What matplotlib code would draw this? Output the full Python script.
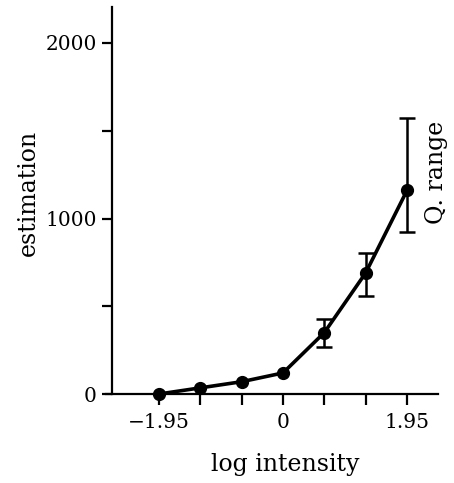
import matplotlib
matplotlib.use("Agg")
import matplotlib.pyplot as plt

# data
x_vals = [-1.95, -1.3, -0.65, 0.0, 0.65, 1.3, 1.95]
estimation = [0, 35, 70, 120, 350, 690, 1160]
err_x = [0.65, 1.3, 1.95]
err_y = [350, 690, 1160]
err_low = [270, 560, 925]
err_high = [425, 805, 1570]
xtick_vals = [-1.95, -1.3, -0.65, 0.0, 0.65, 1.3, 1.95]
xtick_labels = ["\u22121.95", "", "", "0", "", "", "1.95"]
ytick_major = [0, 1000, 2000]
ytick_minor = [500, 1500]

plt.rcParams['font.family'] = ['DejaVu Serif']

W, H = 454, 483
fig = plt.figure(figsize=(W / 100, H / 100), dpi=100)
ax_left, ax_right, ax_bottom, ax_top = 106, 438, 394, 7
ax = fig.add_axes([ax_left / W, 1 - ax_bottom / H, (ax_right - ax_left) / W, (ax_bottom - ax_top) / H])

ppx = (407 - 159) / 3.9  # pixels per x unit
x0 = -1.95 - (159 - ax_left) / ppx
x1 = 1.95 + (ax_right - 407) / ppx
ax.set_xlim(x0, x1)
ppy = (394 - 43) / 2000
ax.set_ylim(0, (394 - ax_top) / ppy)

ax.plot(x_vals, estimation, color='black', lw=2.6, marker='o', ms=8.5, clip_on=False, zorder=3)
yerr = [[y - lo for y, lo in zip(err_y, err_low)], [hi - y for y, hi in zip(err_y, err_high)]]
ax.errorbar(err_x, err_y, yerr=yerr, fmt='none', ecolor='black', elinewidth=1.8, capsize=5.5, capthick=1.8, zorder=2)

for s in ['top', 'right']:
    ax.spines[s].set_visible(False)
ax.spines['left'].set_position(('axes', (112 - ax_left) / (ax_right - ax_left)))
ax.spines['left'].set_linewidth(1.6)
ax.spines['bottom'].set_linewidth(1.6)

ax.set_xticks(xtick_vals)
ax.set_xticklabels(xtick_labels)
ax.set_yticks(ytick_major)
ax.set_yticks(ytick_minor, minor=True)
ax.tick_params(axis='both', which='both', direction='out', width=1.6, labelsize=14.5, colors='black')
ax.tick_params(axis='x', length=8, pad=6)
ax.tick_params(axis='y', which='both', length=7, pad=4)

fig.text(28 / W, 1 - 193 / H, "estimation", rotation=90, ha='center', va='center', fontsize=17)
fig.text(285 / W, 1 - 465 / H, "log intensity", ha='center', va='center', fontsize=17)
fig.text(436 / W, 1 - 172 / H, "Q. range", rotation=90, ha='center', va='center', fontsize=17)

fig.savefig("out.png", dpi=100)
